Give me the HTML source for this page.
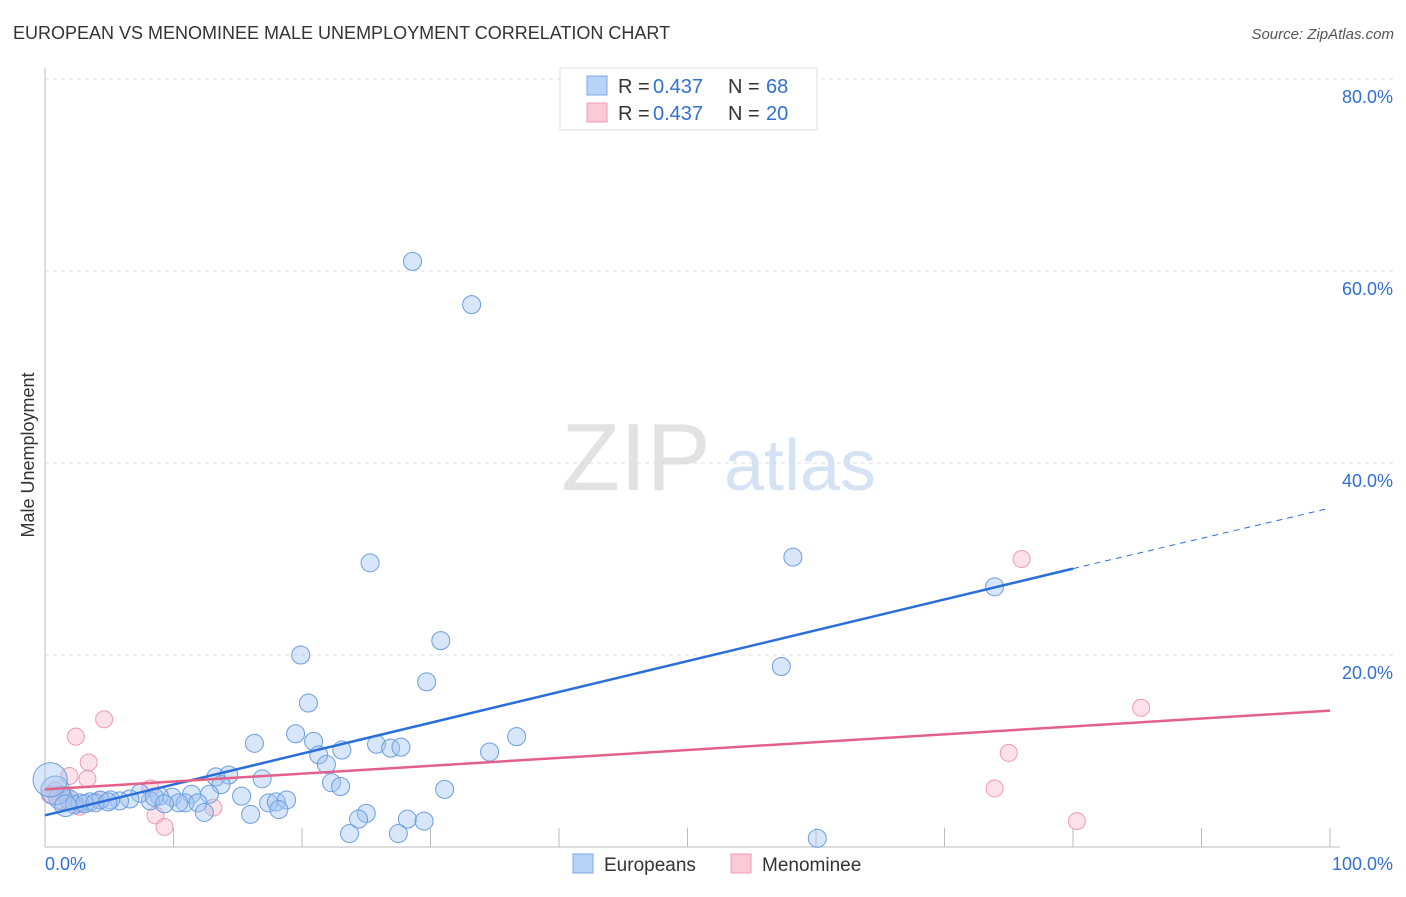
<!DOCTYPE html>
<html><head><meta charset="utf-8"><style>
body{margin:0;background:#fff;font-family:"Liberation Sans",sans-serif;}
svg text{font-family:"Liberation Sans",sans-serif;}
</style></head><body>
<svg id="chart" width="1406" height="892" xmlns="http://www.w3.org/2000/svg">
<text x="13" y="39" font-size="18" fill="#333">EUROPEAN VS MENOMINEE MALE UNEMPLOYMENT CORRELATION CHART</text>
<text x="1394" y="39" font-size="15" fill="#555" font-style="italic" text-anchor="end">Source: ZipAtlas.com</text>
<text x="636" y="490" font-size="96" fill="#e2e2e2" font-family="Liberation Serif" text-anchor="middle">ZIP</text>
<text x="800" y="490" font-size="72" fill="#d4e2f4" text-anchor="middle">atlas</text>
<text transform="translate(34,455) rotate(-90)" font-size="18" fill="#333" text-anchor="middle">Male Unemployment</text>
<g id="grid"></g><g id="axes"></g><g id="pink"></g><g id="blue"></g><g id="lines"></g>
<g>
<rect x="560" y="68" width="257" height="62" fill="#fff" stroke="#ddd"/>
<rect x="587" y="76" width="20" height="19" fill="#b8d3f5" stroke="#7aa7e6"/>
<rect x="587" y="103" width="20" height="19" fill="#fbcad8" stroke="#ef9ab4"/>
<g font-size="20">
<text x="618" y="93" fill="#333">R =</text><text x="653" y="93" fill="#2f6fd6">0.437</text>
<text x="728" y="93" fill="#333">N =</text><text x="766" y="93" fill="#2f6fd6">68</text></g>
<g font-size="20">
<text x="618" y="120" fill="#333">R =</text><text x="653" y="120" fill="#2f6fd6">0.437</text>
<text x="728" y="120" fill="#333">N =</text><text x="766" y="120" fill="#2f6fd6">20</text></g>
</g>
<g>
<rect x="573" y="854" width="20" height="19" fill="#b8d3f5" stroke="#7aa7e6"/>
<text x="604" y="871" font-size="19" fill="#333">Europeans</text>
<rect x="731" y="854" width="20" height="19" fill="#fbcad8" stroke="#ef9ab4"/>
<text x="762" y="871" font-size="19" fill="#333">Menominee</text>
</g>
</svg>
<script>
const blueX=[28.6,33.2,25.3,58.2,73.9,30.8,19.9,57.3,29.7,20.5,19.5,36.7,34.6,16.3,20.9,23.1,25.8,26.9,27.7,21.3,21.9,13.3,14.3,16.9,22.3,23.0,13.7,31.1,15.3,12.8,11.4,9.9,8.9,8.2,7.4,6.6,5.8,5.1,4.3,3.5,2.7,1.9,1.2,0.8,0.4,10.9,11.9,10.4,17.4,18.0,18.8,18.2,12.4,16.0,25.0,24.4,28.2,29.5,23.7,27.5,60.1,8.5,9.3,2.3,3.1,1.6,3.9,4.9];
const blueY=[61.0,56.5,29.6,30.2,27.1,21.5,20.0,18.8,17.2,15.0,11.8,11.5,9.9,10.8,11.0,10.1,10.7,10.3,10.4,9.6,8.6,7.3,7.5,7.1,6.7,6.3,6.5,6.0,5.3,5.5,5.5,5.2,5.3,4.8,5.6,5.0,4.8,4.9,4.9,4.7,4.6,4.9,5.1,5.9,7.0,4.6,4.6,4.6,4.6,4.7,4.9,3.9,3.6,3.4,3.5,2.9,2.9,2.7,1.4,1.4,0.9,5.2,4.5,4.4,4.5,4.3,4.6,4.7];
const blueSize=[1,1,1,1,1,1,1,1,1,1,1,1,1,1,1,1,1,1,1,1,1,1,1,1,1,1,1,1,1,1,1,1,1,1,1,1,1,1,1,1,1,1.1,1.3,1.6,1.9,1,1,1,1,1,1,1,1,1,1,1,1,1,1,1,1,1,1,1,1,1.2,1,1];
const pinkX=[76.0,85.3,75.0,73.9,80.3,4.6,2.4,3.4,3.3,1.9,8.2,8.6,9.3,13.1,0.8,1.2,2.7,4.3,0.4,1.6];
const pinkY=[30.0,14.5,9.8,6.1,2.7,13.3,11.5,8.8,7.1,7.4,6.1,3.3,2.1,4.1,5.9,4.9,4.2,4.9,5.4,5.4];
const blueLine=[3.3,29.0,35.3];
const pinkLine=[6.0,14.2];
const yTicks=[20,40,60,80];
const xTickLabels=["0.0%","100.0%"];
const NS="http://www.w3.org/2000/svg";
const X=v=>45+v*12.85, Y=v=>847-v*9.6;
function mk(tag,attrs,parent){const e=document.createElementNS(NS,tag);for(const k in attrs)e.setAttribute(k,attrs[k]);document.getElementById(parent).appendChild(e);return e;}
yTicks.forEach(t=>{
 const l=mk('line',{x1:45,x2:1395,y1:Y(t),y2:Y(t),stroke:'#ddd','stroke-dasharray':'4,4'},'grid');
 
 
 const tx=mk('text',{x:1393,y:Y(t)+24,'font-size':18,fill:'#2f6fd6','text-anchor':'end'},'grid');tx.textContent=t.toFixed(1)+'%';
 
 
});
let a=mk('line',{x1:45,x2:45,y1:68,y2:847,stroke:'#bbb'},'axes');


a=mk('line',{x1:45,x2:1340,y1:847,y2:847,stroke:'#bbb'},'axes');


for(let i=1;i<=10;i++){const t=mk('line',{x1:X(i*10),x2:X(i*10),y1:828,y2:847,stroke:'#bbb'},'axes');
 
 }
let xl=mk('text',{x:45,y:870,'font-size':18,fill:'#2f6fd6'},'axes');xl.textContent=xTickLabels[0];


xl=mk('text',{x:1393,y:870,'font-size':18,fill:'#2f6fd6','text-anchor':'end'},'axes');xl.textContent=xTickLabels[1];


pinkX.forEach((v,i)=>{const c=mk('circle',{cx:X(v),cy:Y(pinkY[i]),r:8.5,fill:'rgba(248,180,200,0.4)',stroke:'#ef9ab4','stroke-width':1},'pink');
 
 });
blueX.forEach((v,i)=>{const c=mk('circle',{cx:X(v),cy:Y(blueY[i]),r:9*blueSize[i],fill:'rgba(160,196,240,0.42)',stroke:'#6b9de0','stroke-width':1},'blue');
 
 });
let ln=mk('line',{x1:X(0),y1:Y(blueLine[0]),x2:X(80),y2:Y(blueLine[1]),stroke:'#2a6fd8','stroke-width':2.5},'lines');


ln=mk('line',{x1:X(80),y1:Y(blueLine[1]),x2:X(100),y2:Y(blueLine[2]),stroke:'#2a6fd8','stroke-width':1,'stroke-dasharray':'6,5'},'lines');


ln=mk('line',{x1:X(0),y1:Y(pinkLine[0]),x2:X(100),y2:Y(pinkLine[1]),stroke:'#e4608a','stroke-width':2.5},'lines');


</script>
</body></html>
